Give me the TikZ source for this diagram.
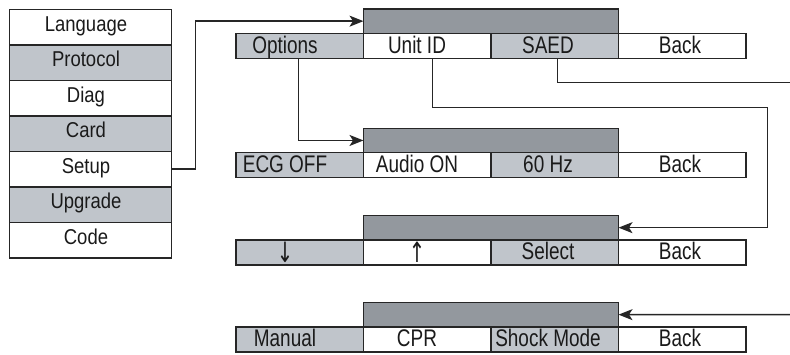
\documentclass[tikz,border=0pt]{standalone}
\usepackage{fontspec}
\setmainfont{Liberation Sans}
\newfontfamily\btnfont{Liberation Sans}[FakeStretch=0.79]
\newfontfamily\colfont{Liberation Sans}[FakeStretch=0.86]
\newfontfamily\arrfont{DejaVu Sans}[FakeStretch=0.7]
\usetikzlibrary{arrows.meta}
\definecolor{lc}{HTML}{262626}
\definecolor{lg}{HTML}{C0C5CB}
\definecolor{dg}{HTML}{93989E}
\definecolor{tc}{HTML}{1A1A1A}
\tikzset{
  box/.style={draw=lc, line width=1.4pt, minimum width=127.5pt, minimum height=25pt, inner sep=0pt, outer sep=0pt, anchor=north west},
  lite/.style={box, fill=lg},
  wht/.style={box, fill=white},
  hdr/.style={box, fill=dg, minimum width=255pt, minimum height=24.3pt},
  cbox/.style={draw=lc, line width=1.4pt, minimum width=162.4pt, minimum height=35.5pt, inner sep=0pt, outer sep=0pt, anchor=north west},
  clite/.style={cbox, fill=lg},
  cwht/.style={cbox, fill=white},
  btxt/.style={anchor=base, inner sep=0pt, text=tc, font=\btnfont\fontsize{24}{24}\selectfont},
  atxt/.style={anchor=center, inner sep=0pt, text=tc, font=\arrfont\fontsize{28}{28}\selectfont},
  ctxt/.style={anchor=base, inner sep=0pt, text=tc, font=\colfont\fontsize{21.5}{21.5}\selectfont},
  conn/.style={draw=lc, line width=1.4pt},
  arr/.style={conn, -{Stealth[length=14pt,width=11pt,inset=3.5pt]}}
}
\begin{document}
\begin{tikzpicture}[x=1pt,y=-1pt]
\useasboundingbox (0,0) rectangle (790,354);

% left column
\node[cwht]  (lang)  at (9.3,9.3)   {};
\node[clite] (prot)  at (9.3,44.8)  {};
\node[cwht]  (diag)  at (9.3,80.3)  {};
\node[clite] (card)  at (9.3,115.8) {};
\node[cwht]  (setup) at (9.3,151.3) {};
\node[clite] (upg)   at (9.3,186.8) {};
\node[cwht]  (code)  at (9.3,222.3) {};
\node[ctxt] (tlang)  at ([xshift=-4.5pt,yshift=-4pt]lang.center)  {Language};
\node[ctxt] (tprot)  at ([xshift=-4.5pt,yshift=-4pt]prot.center)  {Protocol};
\node[ctxt] (tdiag)  at ([xshift=-4.5pt,yshift=-4pt]diag.center)  {Diag};
\node[ctxt] (tcard)  at ([xshift=-4.5pt,yshift=-4pt]card.center)  {Card};
\node[ctxt] (tsetup) at ([xshift=-4.5pt,yshift=-4pt]setup.center) {Setup};
\node[ctxt] (tupg)   at ([xshift=-4.5pt,yshift=-4pt]upg.center)   {Upgrade};
\node[ctxt] (tcode)  at ([xshift=-4.5pt,yshift=-4pt]code.center)  {Code};

% row 1
\node[hdr]  (h1)  at (363.5,9) {};
\node[lite] (b1a) at (236,33.3) {};
\node[wht]  (b1b) at (363.5,33.3) {};
\node[lite] (b1c) at (491,33.3) {};
\node[wht]  (b1d) at (618.5,33.3) {};
\node[btxt] (t1a) at ([xshift=-14.75pt,yshift=-7.5pt]b1a.center) {Options};
\node[btxt] (t1b) at ([xshift=-10.25pt,yshift=-7.5pt]b1b.center) {Unit ID};
\node[btxt] (t1c) at ([xshift=-6.75pt,yshift=-7.5pt]b1c.center) {SAED};
\node[btxt] (t1d) at ([xshift=-2.25pt,yshift=-7.5pt]b1d.center) {Back};

% row 2
\node[hdr]  (h2)  at (363.5,128.3) {};
\node[lite] (b2a) at (236,152.6) {};
\node[wht]  (b2b) at (363.5,152.6) {};
\node[lite] (b2c) at (491,152.6) {};
\node[wht]  (b2d) at (618.5,152.6) {};
\node[btxt] (t2a) at ([xshift=-14.75pt,yshift=-7.5pt]b2a.center) {ECG OFF};
\node[btxt] (t2b) at ([xshift=-10.25pt,yshift=-7.5pt]b2b.center) {Audio ON};
\node[btxt] (t2c) at ([xshift=-6.75pt,yshift=-7.5pt]b2c.center) {60 Hz};
\node[btxt] (t2d) at ([xshift=-2.25pt,yshift=-7.5pt]b2d.center) {Back};

% row 3
\node[hdr]  (h3)  at (363.5,215.5) {};
\node[lite] (b3a) at (236,239.8) {};
\node[wht]  (b3b) at (363.5,239.8) {};
\node[lite] (b3c) at (491,239.8) {};
\node[wht]  (b3d) at (618.5,239.8) {};
\node[atxt] (t3a) at ([xshift=-14.75pt,yshift=0pt]b3a.center) {↓};
\node[atxt] (t3b) at ([xshift=-10.25pt,yshift=0pt]b3b.center) {↑};
\node[btxt] (t3c) at ([xshift=-6.75pt,yshift=-7.5pt]b3c.center) {Select};
\node[btxt] (t3d) at ([xshift=-2.25pt,yshift=-7.5pt]b3d.center) {Back};

% row 4
\node[hdr]  (h4)  at (363.5,302.5) {};
\node[lite] (b4a) at (236,326.8) {};
\node[wht]  (b4b) at (363.5,326.8) {};
\node[lite] (b4c) at (491,326.8) {};
\node[wht]  (b4d) at (618.5,326.8) {};
\node[btxt] (t4a) at ([xshift=-14.75pt,yshift=-7.5pt]b4a.center) {Manual};
\node[btxt] (t4b) at ([xshift=-10.25pt,yshift=-7.5pt]b4b.center) {CPR};
\node[btxt] (t4c) at ([xshift=-6.75pt,yshift=-7.5pt]b4c.center) {Shock Mode};
\node[btxt] (t4d) at ([xshift=-2.25pt,yshift=-7.5pt]b4d.center) {Back};

% connectors
\coordinate (cU) at (767.7,107.7);
\coordinate (sE) at (791,82.7);
\coordinate (r4) at (791,314.6);
\draw[arr] (setup.east) -- ++(23.5,0) |- (h1.west);
\draw[arr] ([xshift=-1.5pt]b1a.south) |- (h2.west);
\draw[arr] ([xshift=5.5pt]b1b.south) |- (cU) |- (h3.east);
\draw[conn] ([xshift=2.5pt]b1c.south) |- (sE);
\draw[arr] (r4) -- (h4.east);
\end{tikzpicture}
\end{document}
